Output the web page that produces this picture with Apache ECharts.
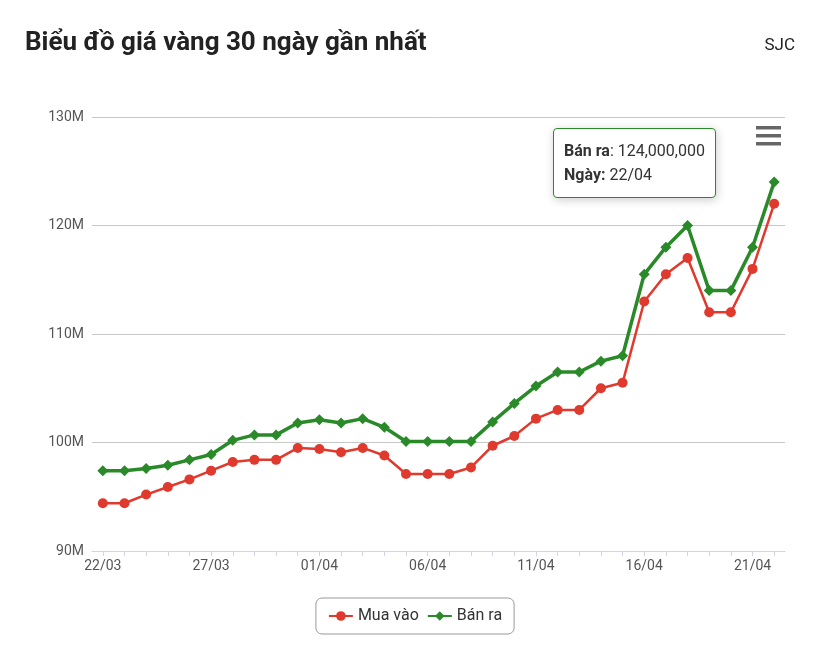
<!DOCTYPE html>
<html><head><meta charset="utf-8">
<script src="https://cdn.jsdelivr.net/npm/echarts@6/dist/echarts.min.js"></script>
<style>html,body{margin:0;padding:0;background:#fff}#c{width:830px;height:658px}</style>
</head><body><div id="c"></div>
<script>
const categories=['22/03','23/03','24/03','25/03','26/03','27/03','28/03','29/03','30/03','31/03','01/04','02/04','03/04','04/04','05/04','06/04','07/04','08/04','09/04','10/04','11/04','12/04','13/04','14/04','15/04','16/04','17/04','18/04','19/04','20/04','21/04','22/04'];
const muaVao=[94.4,94.4,95.2,95.9,96.6,97.4,98.2,98.4,98.4,99.5,99.4,99.1,99.5,98.8,97.1,97.1,97.1,97.7,99.7,100.6,102.2,103,103,105,105.5,113,115.5,117,112,112,116,122];
const banRa=[97.4,97.4,97.6,97.9,98.4,98.9,100.2,100.7,100.7,101.8,102.1,101.8,102.2,101.4,100.1,100.1,100.1,100.1,101.9,103.6,105.2,106.5,106.5,107.5,108,115.5,118,120,114,114,118,124];
const c=echarts.init(document.getElementById('c'));
const font='Roboto, "Noto Sans", sans-serif';
c.setOption({
 animation:false,
 textStyle:{fontFamily:font},
 title:[{text:'Biểu đồ giá vàng 30 ngày gần nhất',left:20,top:25,textStyle:{fontSize:26,fontWeight:'bold',color:'#222',fontFamily:font}},
        {text:'SJC',right:30,top:32,textStyle:{fontSize:17,fontWeight:'normal',color:'#222',fontFamily:font}}],
 grid:{left:92,right:45,top:117,bottom:107},
 xAxis:{type:'category',data:categories,boundaryGap:true,
   axisLine:{lineStyle:{color:'#ccd6eb'}},axisTick:{show:true,alignWithLabel:true,interval:0,lineStyle:{color:'#ccd6eb'}},
   axisLabel:{interval:4,color:'#555',fontSize:14,margin:8}},
 yAxis:{type:'value',min:90,max:130,interval:10,
   axisLabel:{formatter:v=>v+'M',color:'#555',fontSize:14},
   splitLine:{lineStyle:{color:'#c8c8c8'}}},
 tooltip:{trigger:'item',alwaysShowContent:true,position:[553,128],
   backgroundColor:'#fff',borderColor:'#2a8a2a',borderWidth:1.5,padding:[10,10],
   textStyle:{color:'#333',fontSize:16},
   formatter:p=>'<b>'+p.seriesName+'</b>: '+(p.value*1000000).toLocaleString('en-US')+'<br/><b>Ngày:</b> '+p.name},
 legend:{bottom:24,left:'center',itemWidth:24,itemHeight:12,itemGap:8,
   borderColor:'#999',borderWidth:1,borderRadius:6,padding:[10,12],
   textStyle:{fontSize:16,color:'#333'},data:[{name:'Mua vào'},{name:'Bán ra'}]},
 series:[
  {name:'Mua vào',type:'line',data:muaVao,symbol:'circle',symbolSize:10,color:'#e0392d',lineStyle:{width:2.5}},
  {name:'Bán ra',type:'line',data:banRa,symbol:'diamond',symbolSize:11,color:'#2a8a2a',lineStyle:{width:3.5}}
 ],
 graphic:[0,1,2].map(i=>({type:'rect',shape:{x:756,y:126+i*8,width:25,height:3.5},style:{fill:'#666'}}))
});
c.dispatchAction({type:'showTip',seriesIndex:1,dataIndex:31});
</script></body></html>
